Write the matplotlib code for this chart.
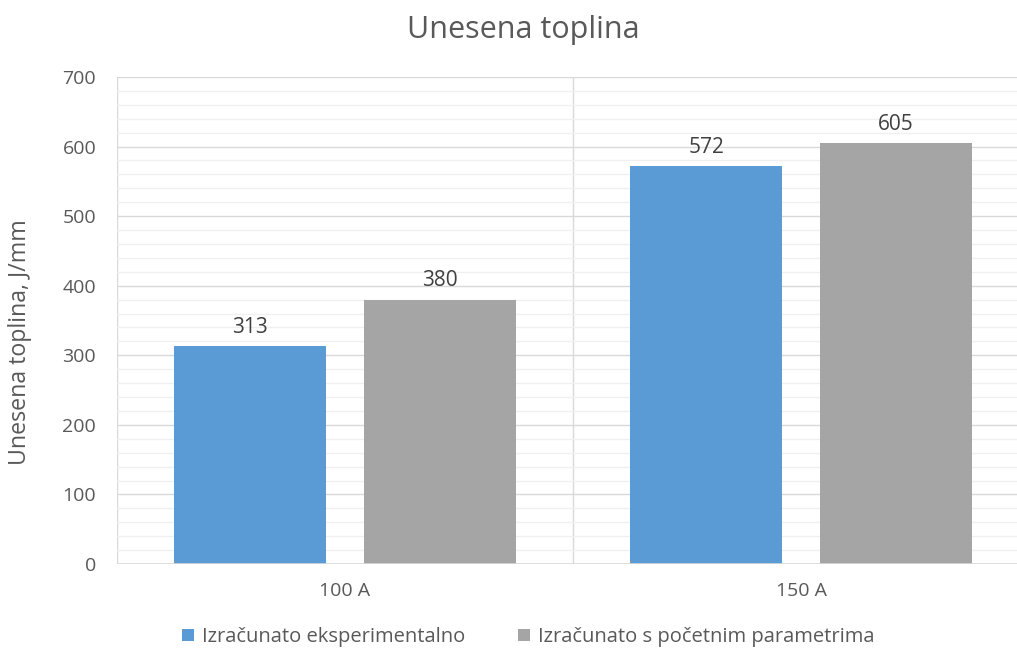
import matplotlib
matplotlib.use("Agg")
import matplotlib.pyplot as plt
import numpy as np

categories = ["100 A", "150 A"]
series_names = ["Izračunato eksperimentalno", "Izračunato s početnim parametrima"]
eksperimentalno = [313, 572]
pocetni = [380, 605]
colors = ["#5B9BD5", "#A5A5A5"]

TXT = "#595959"
plt.rcParams["font.family"] = ["Open Sans", "DejaVu Sans"]

fig = plt.figure(figsize=(10.17, 6.5), dpi=100)
# plot area runs a little past the right edge of the canvas
ax = fig.add_axes([117 / 1017, 1 - 564 / 650, 912 / 1017, 487 / 650])
ax.patch.set_visible(False)

x = np.arange(len(categories))
w = 0.333
off = 0.208
b1 = ax.bar(x - off, eksperimentalno, w, color=colors[0], label=series_names[0], zorder=3)
b2 = ax.bar(x + off, pocetni, w, color=colors[1], label=series_names[1], zorder=3)
for bars, vals in ((b1, eksperimentalno), (b2, pocetni)):
    for r, v in zip(bars, vals):
        ax.text(r.get_x() + r.get_width() / 2, v + 12, f"{v}", ha="center", va="bottom",
                fontsize=15, color="#404040")

ax.set_xlim(-0.5, len(categories) - 0.5)
ax.set_ylim(0, 700)
ax.set_yticks(range(0, 701, 100))
ax.set_yticks(range(0, 701, 20), minor=True)
ax.grid(axis="y", which="minor", color="#F0F0F0", lw=1.0, zorder=0)
ax.grid(axis="y", which="major", color="#D9D9D9", lw=1.0, zorder=1)
for xv in (-0.5, 0.5):
    ax.axvline(xv, color="#D9D9D9", lw=1.0, zorder=1)
ax.set_xticks(x)
ax.set_xticklabels(categories)
for s in ax.spines.values():
    s.set_visible(False)
ax.axhline(0, color="#D9D9D9", lw=1.2, zorder=4)
ax.tick_params(axis="both", which="both", length=0, colors=TXT, labelsize=14)
ax.tick_params(axis="y", pad=15)
ax.tick_params(axis="x", pad=13)

fig.text(20 / 1017, 1 - 342 / 650, "Unesena toplina, J/mm", rotation=90,
         ha="center", va="center", fontsize=16.7, color=TXT)
fig.text(523 / 1017, 1 - 30 / 650, "Unesena toplina", ha="center", va="center",
         fontsize=22, color=TXT)

fig.legend(handles=[b1, b2], loc="center", bbox_to_anchor=(528 / 1017, 1 - 637 / 650),
           ncol=2, frameon=False, fontsize=14.5, labelcolor=TXT, handlelength=0.6,
           handleheight=0.6, handletextpad=0.4, columnspacing=2.6)

fig.savefig("out.png", dpi=100)
